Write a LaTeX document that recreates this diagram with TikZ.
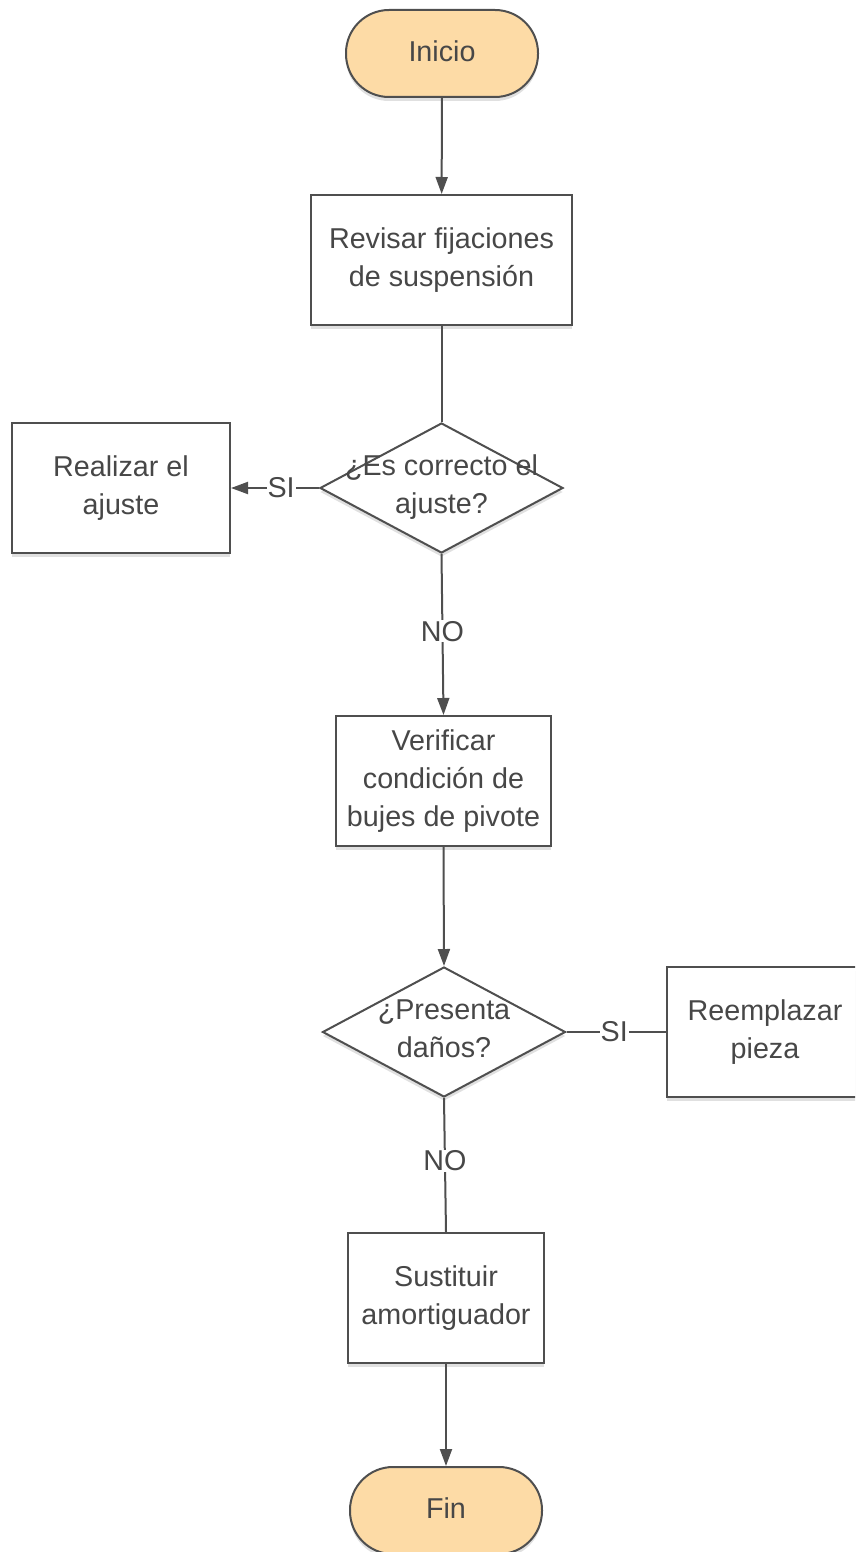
\documentclass[tikz,border=0pt]{standalone}
\usepackage{fontspec}
\setmainfont{Liberation Sans}
\usetikzlibrary{shapes.geometric,arrows.meta,shadows}
\definecolor{edgegray}{HTML}{4F4F4F}
\definecolor{textgray}{HTML}{474747}
\definecolor{termfill}{HTML}{FDDBA6}
\begin{document}
\begin{tikzpicture}[x=1pt,y=-1pt,
  every node/.style={font=\fontsize{28.7}{38}\selectfont, text=textgray},
  base/.style={draw=edgegray, line width=2pt,
    drop shadow={shadow xshift=0pt, shadow yshift=-4pt, opacity=0.12, fill=black}},
  terminal/.style={base, fill=termfill, rounded corners=43pt,
    minimum width=192pt, minimum height=87pt, inner sep=0pt, text depth=4pt},
  process/.style={base, fill=white, minimum height=130pt, inner sep=0pt, align=center},
  decision/.style={base, fill=white, shape=diamond, aspect=1.87,
    minimum width=243pt, minimum height=130pt, inner sep=0pt},
  dtext/.style={align=center, inner sep=0pt},
  link/.style={draw=edgegray, line width=2pt},
  flow/.style={link, -{Triangle[length=17pt,width=12pt]}},
  tag/.style={fill=white, inner sep=1pt}
]
\clip (0,0) rectangle (855,1552);
\useasboundingbox (0,0) rectangle (855,1552);

% main column of steps
\node[terminal] (start) at (442,53.5) {Inicio};
\node[process, minimum width=261pt] (check) at (441.5,260) {Revisar fijaciones\\de suspensión};
\node[decision] (adjust) at (441.5,488) {};
\node[dtext] (adjusttext) at (441.5,487) {¿Es correcto el\\ajuste?};
\node[process, minimum width=218pt] (fix) at (121,488) {Realizar el\\ajuste};
\node[process, minimum width=215pt] (verify) at (443.5,781) {Verificar\\condición de\\bujes de pivote};
\node[decision] (damage) at (444,1032) {};
\node[dtext] (damagetext) at (444,1029) {¿Presenta\\daños?};
\node[process, minimum width=196pt] (replace) at (765,1032) {Reemplazar\\pieza};
\node[process, minimum width=196pt] (shock) at (446,1298) {Sustituir\\amortiguador};
\node[terminal] (finish) at (446,1510.5) {Fin};

% connectors
\draw[flow] (start) -- (check);
\draw[link] (check) -- (adjust);
\draw[flow] (adjust.west) -- node[tag, pos=0.43] (si1) {SI} (fix.east);
\draw[flow] (adjust.south) -- node[tag, pos=0.48] (no1) {NO} (verify.north);
\draw[flow] (verify.south) -- (damage.north);
\draw[link] (damage.east) -- node[tag, pos=0.48] (si2) {SI} (replace.west);
\draw[link] (damage.south) -- node[tag, pos=0.47] (no2) {NO} (shock.north);
\draw[flow] (shock) -- (finish);
\end{tikzpicture}
\end{document}
